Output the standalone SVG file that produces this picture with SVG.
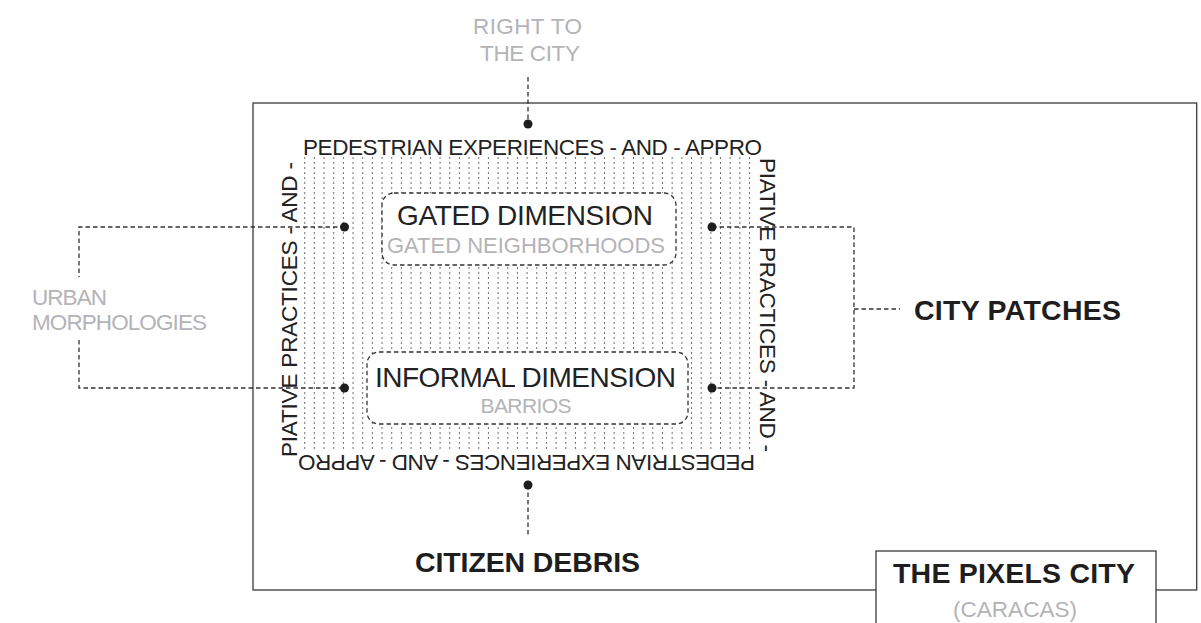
<svg xmlns="http://www.w3.org/2000/svg" width="1201" height="623" viewBox="0 0 1201 623">
<style>
text{font-family:"Liberation Sans",Arial,sans-serif;}
.gray{fill:#b3b3b8;}
.band{font-size:22.5px;fill:#222;}
.big{font-size:28px;fill:#222;}
.bold{font-size:28.5px;font-weight:bold;fill:#1e1e1e;}
.frame{fill:none;stroke:#3a3a3a;stroke-width:1.3;}
.conn{fill:none;stroke:#333;stroke-width:1.3;stroke-dasharray:4.5 3;}
.box{fill:#fff;stroke:#333;stroke-width:1.3;stroke-dasharray:4.5 3;}
.dot{fill:#1e1e1e;}
.hatch{fill:none;stroke:#707070;stroke-width:1;stroke-dasharray:2 3;}
</style>
<rect width="1201" height="623" fill="#fff"/>
<g id="frame">
<rect class="frame" x="253" y="103" width="943.7" height="487"/>
</g>
<g id="hatch-field">
<path class="hatch" d="M304.7 157V452M314.37 157V452M324.04 157V452M333.71 157V452M343.38 157V452M353.05 157V452M362.72 157V452M372.39 157V452M382.06 157V452M391.73 157V452M401.4 157V452M411.07 157V452M420.74 157V452M430.41 157V452M440.08 157V452M449.75 157V452M459.42 157V452M469.09 157V452M478.76 157V452M488.43 157V452M498.1 157V452M507.77 157V452M517.44 157V452M527.11 157V452M536.78 157V452M546.45 157V452M556.12 157V452M565.79 157V452M575.46 157V452M585.13 157V452M594.8 157V452M604.47 157V452M614.14 157V452M623.81 157V452M633.48 157V452M643.15 157V452M652.82 157V452M662.49 157V452M672.16 157V452M681.83 157V452M691.5 157V452M701.17 157V452M710.84 157V452M720.51 157V452M730.18 157V452M739.85 157V452M749.52 157V452"/>
</g>
<g id="band-text">
<text class="band" x="303" y="155" textLength="459">PEDESTRIAN EXPERIENCES - AND - APPRO</text>
<text class="band" transform="translate(760,158) rotate(90)" x="0" y="0" textLength="294">PIATIVE PRACTICES - AND -</text>
<text class="band" transform="translate(755,455) rotate(180)" x="0" y="0" textLength="457">PEDESTRIAN EXPERIENCES - AND - APPRO</text>
<text class="band" transform="translate(297,457) rotate(-90)" x="0" y="0" textLength="295">PIATIVE PRACTICES - AND -</text>
</g>
<g id="connectors">
<path class="conn" d="M528 77V124"/>
<path class="conn" d="M528 485V535"/>
<path class="conn" d="M345 227H79V277M79 340V388H345"/>
<path class="conn" d="M712 227H854V388H712M854 309H900"/>
</g>
<g id="gated">
<rect class="box" x="382" y="193" width="294" height="72" rx="12"/>
<text class="big" x="525" y="225" text-anchor="middle" textLength="256">GATED DIMENSION</text>
<text class="gray" x="526" y="253" font-size="22" text-anchor="middle" textLength="278">GATED NEIGHBORHOODS</text>
</g>
<g id="informal">
<rect class="box" x="367" y="352" width="321" height="72" rx="12"/>
<text class="big" x="525.5" y="387" text-anchor="middle" textLength="301">INFORMAL DIMENSION</text>
<text class="gray" x="526" y="413" font-size="21" text-anchor="middle" textLength="91">BARRIOS</text>
</g>
<g id="dots">
<circle class="dot" cx="528" cy="124" r="4.5"/>
<circle class="dot" cx="344.5" cy="227" r="4.5"/>
<circle class="dot" cx="712" cy="227" r="4.5"/>
<circle class="dot" cx="344.5" cy="388" r="4.5"/>
<circle class="dot" cx="712" cy="388" r="4.5"/>
<circle class="dot" cx="528" cy="485" r="4.5"/>
</g>
<g id="right-to-the-city">
<text class="gray" x="527.5" y="34" font-size="22.5" text-anchor="middle" textLength="109">RIGHT TO</text>
<text class="gray" x="530" y="61" font-size="22.5" text-anchor="middle" textLength="100">THE CITY</text>
</g>
<g id="urban-morphologies">
<text class="gray" x="32" y="305" font-size="22.5" textLength="75">URBAN</text>
<text class="gray" x="32" y="330" font-size="22.5" textLength="175">MORPHOLOGIES</text>
</g>
<g id="city-patches">
<text class="bold" x="914" y="320" textLength="207">CITY PATCHES</text>
</g>
<g id="citizen-debris">
<text class="bold" x="527.5" y="572" text-anchor="middle" textLength="225">CITIZEN DEBRIS</text>
</g>
<g id="title">
<rect x="876" y="551" width="280" height="80" fill="#fff" stroke="#3a3a3a" stroke-width="1.3"/>
<text class="bold" x="893" y="583" textLength="242">THE PIXELS CITY</text>
<text class="gray" x="1015" y="617" font-size="22.5" text-anchor="middle" textLength="124">(CARACAS)</text>
</g>
</svg>
